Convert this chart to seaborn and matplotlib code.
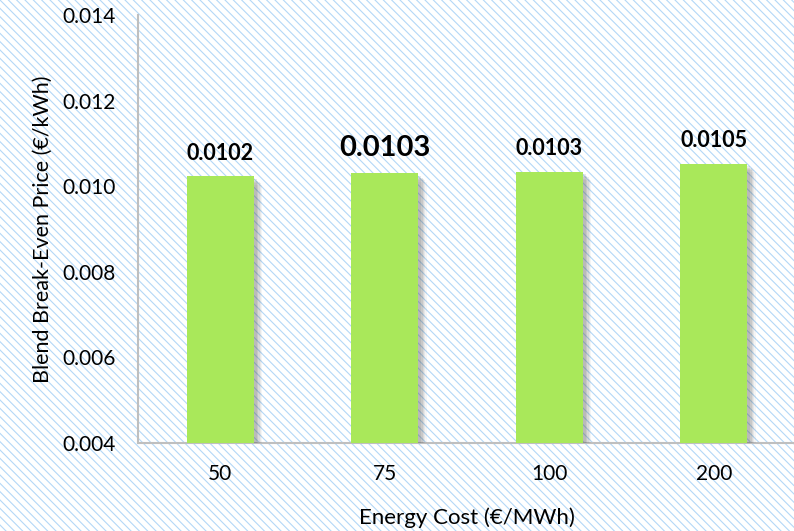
import matplotlib
matplotlib.use("Agg")
import matplotlib.pyplot as plt
import matplotlib.patheffects as pe
from matplotlib.patches import Rectangle
import seaborn as sns
import pandas as pd

# Break-even price of the blend for each energy cost scenario
energy_cost = ["50", "75", "100", "200"]
break_even = [0.01023, 0.01030, 0.01034, 0.01053]
label_sizes = [15.5, 21, 15.5, 15.5]

sns.set_theme(style="white")
plt.rcParams["font.family"] = ["Lato", "DejaVu Sans"]
plt.rcParams["hatch.linewidth"] = 0.8
plt.rcParams["hatch.color"] = "#b3d8f7"

df = pd.DataFrame({"cost": energy_cost, "price": break_even})

fig = plt.figure(figsize=(7.94, 5.31), dpi=100)
fig.patch.set_facecolor("white")
# diagonal stripe texture behind the whole chart
bg = Rectangle((0, 0), 1, 1, transform=fig.transFigure, facecolor="white",
               edgecolor="#b3d8f7", hatch="\\" * 4, linewidth=0, zorder=-10)
fig.patches.append(bg)

ax = fig.add_axes([138 / 794, (531 - 443) / 531, (794 - 138 + 2) / 794, (443 - 15) / 531])
ax.set_facecolor("none")

sns.barplot(data=df, x="cost", y="price", color="#a9e85a", saturation=1,
            width=0.41, ax=ax, zorder=3)

# soft drop shadow on the right of each bar
shadow = [pe.SimplePatchShadow(offset=(d, -d), shadow_rgbFace="#555555", alpha=a)
          for d, a in [(6, 0.06), (5, 0.08), (4, 0.10), (3, 0.12), (2, 0.12)]]
for bar in ax.patches:
    bar.set_path_effects(shadow + [pe.Normal()])
    bar.set_edgecolor("none")

for i, (v, fs) in enumerate(zip(break_even, label_sizes)):
    ax.annotate(f"{v:.4f}", (i, v), xytext=(0, 9), textcoords="offset points",
                ha="center", va="bottom", fontsize=fs, fontweight="bold", color="black")

ax.set_ylim(0.004, 0.014)
ax.set_yticks([0.004, 0.006, 0.008, 0.010, 0.012, 0.014])
ax.set_yticklabels(["0.004", "0.006", "0.008", "0.010", "0.012", "0.014"])
ax.tick_params(axis="both", length=0, labelsize=15, colors="black")
ax.tick_params(axis="y", pad=16)
ax.tick_params(axis="x", pad=15)

for s in ["top", "right"]:
    ax.spines[s].set_visible(False)
for s in ["left", "bottom"]:
    ax.spines[s].set_color("#bfbfbf")
    ax.spines[s].set_linewidth(1.5)

ax.set_xlabel("Energy Cost (€/MWh)", fontsize=16, color="black", labelpad=17)
ax.set_ylabel("Blend Break-Even Price (€/kWh)", fontsize=15.5, color="black", labelpad=7)
ax.grid(False)

fig.savefig("out.png", dpi=100)
